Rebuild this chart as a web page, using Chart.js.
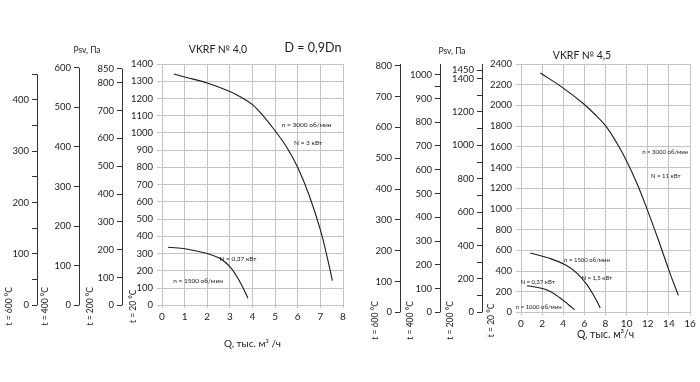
<!DOCTYPE html>
<html><head><meta charset="utf-8">
<script src="https://cdn.jsdelivr.net/npm/chart.js@4.4.1/dist/chart.umd.min.js"></script>
<style>
html,body{margin:0;padding:0;background:#fff}
body{width:700px;height:382px;position:relative;overflow:hidden;font-family:Lato,"Liberation Sans",sans-serif}
.c{position:absolute;top:0;height:382px}
.t{position:absolute;color:#222;white-space:nowrap;transform:translate(-50%,-50%);line-height:1}
</style></head><body>
<div class="c" style="left:0;width:355px"><canvas id="c1"></canvas></div>
<div class="c" style="left:355px;width:345px"><canvas id="c2"></canvas></div>
<div class="t" style="left:87px;top:50px;font-size:8.5px">Psv, Па</div>
<div class="t" style="left:218px;top:49px;font-size:10.5px">VKRF № 4,0</div>
<div class="t" style="left:313px;top:48px;font-size:12.5px">D = 0,9Dn</div>
<div class="t" style="left:452px;top:51px;font-size:8.5px">Psv, Па</div>
<div class="t" style="left:582px;top:55px;font-size:10.5px">VKRF № 4,5</div>
<script>
// ---------- data: VKRF № 4,0 ----------
const q40_n3000 = [0.53, 1.0, 2.0, 3.0, 3.5, 4.0, 4.5, 5.0, 5.5, 6.0, 6.5, 7.0, 7.3, 7.53];
const p40_n3000 = [1342, 1325, 1290, 1241, 1207, 1164, 1095, 1012, 920, 800, 640, 438, 280, 143];
const q40_n1500 = [0.27, 1.08, 1.96, 2.55, 3.0, 3.44, 3.8];
const p40_n1500 = [337, 327, 302, 273, 224, 137, 41];
const xTicks40 = [0,1,2,3,4,5,6,7,8];
const yTicks40_t20  = [0,100,200,300,400,500,600,700,800,900,1000,1100,1200,1300,1400];
const yTicks40_t200 = [0,100,200,300,400,500,600,700,800,850];
const yTicks40_t400 = [0,100,200,300,400,500,600];
const yTicks40_t600 = [0,50,100,150,200,250,300,350,400,450];
const yLabels40_t600 = [0,100,200,300,400];
const notes40 = [
  {text:'n = 3000 об/мин', x:6.39, y:1048},
  {text:'N = 3 кВт', x:6.46, y:945},
  {text:'N = 0,37 кВт', x:3.36, y:267},
  {text:'n = 1500 об/мин', x:1.59, y:143}
];
// ---------- data: VKRF № 4,5 ----------
const q45_n3000 = [1.83, 3.87, 5.92, 7.18, 8.06, 9.07, 10.02, 10.96, 11.9, 13.0, 14.1, 14.9];
const p45_n3000 = [2313, 2177, 2016, 1894, 1797, 1636, 1459, 1250, 1008, 702, 380, 164];
const q45_n1500 = [0.88, 2.61, 4.19, 5.29, 6.24, 7.02, 7.5];
const p45_n1500 = [574, 525, 461, 380, 268, 139, 42];
const q45_n1000 = [0.57, 1.82, 2.77, 3.71, 4.5, 5.07];
const p45_n1000 = [258, 236, 203, 139, 74, 26];
const xTicks45 = [0,2,4,6,8,10,12,14,16];
const yTicks45_t20  = [0,200,400,600,800,1000,1200,1400,1600,1800,2000,2200,2400];
const yTicks45_t200 = [0,100,200,300,400,500,600,700,800,900,1000,1100,1200,1300,1400,1450];
const yLabels45_t200 = [0,200,400,600,800,1000,1200,1400,1450];
const yTicks45_t400 = [0,100,200,300,400,500,600,700,800,900,950,1000];
const yLabels45_t400 = [0,100,200,300,400,500,600,700,800,900,1000];
const yTicks45_t600 = [0,100,200,300,400,500,600,700,800];
const notes45 = [
  {text:'n = 3000 об/мин', x:13.64, y:1546},
  {text:'N = 11 кВт', x:13.7, y:1320},
  {text:'n = 1500 об/мин', x:6.24, y:509},
  {text:'N = 1,5 кВт', x:7.18, y:332},
  {text:'N = 0,37 кВт', x:1.57, y:290},
  {text:'n = 1000 об/мин', x:1.67, y:52}
];
const temps = [20, 200, 400, 600];

const FONT = 'Lato, "Liberation Sans", sans-serif';
const GRID = '#c4c4c4';
const AXIS = '#333';

function pts(xs, ys){ return xs.map((x,i)=>({x, y:ys[i]})); }
function setTicks(vals){ return s => { s.ticks = vals.map(v=>({value:v})); }; }
function fixW(w){ return s => { s.width = w; }; }

function makeChart(id, P){
  const mainMax = P.yMain[P.yMain.length-1];
  const scales = {
    x: {
      type:'linear', position:'bottom', min:0, max:P.xTicks[P.xTicks.length-1],
      afterBuildTicks:setTicks(P.xTicks),
      afterFit: s => { s.height = P.xTitleOff + P.xTitleFont*1.2/2; },
      grid:{color:GRID, lineWidth:1, tickLength:3},
      border:{color:GRID},
      ticks:{autoSkip:false, maxRotation:0, padding:2, color:'#222', font:{family:FONT, size:P.xFont},
        callback:(v)=>String(v)},
      title:{display:true, text:P.xTitle, color:'#222', padding:0, font:{family:FONT, size:P.xTitleFont}}
    },
    y: {
      type:'linear', position:'left', weight:0, min:0, max:mainMax,
      afterBuildTicks:setTicks(P.yMain), afterFit:fixW(P.widths[3]),
      grid:{color:GRID, lineWidth:1, tickLength:5},
      border:{color:GRID},
      ticks:{autoSkip:false, padding:4, color:'#222', font:{family:FONT, size:P.yFont},
        callback:(v)=>String(v)}
    }
  };
  const sec = [
    {id:'t200', t:200, ticks:P.t200, labels:P.l200, w:P.widths[2], wt:1},
    {id:'t400', t:400, ticks:P.t400, labels:P.l400, w:P.widths[1], wt:2},
    {id:'t600', t:600, ticks:P.t600, labels:P.l600, w:P.widths[0], wt:3}
  ];
  sec.forEach(a=>{
    const lbl = a.labels;
    scales[a.id] = {
      type:'linear', position:'left', weight:a.wt, min:0,
      max: mainMax*(273+temps[0])/(273+a.t),
      afterBuildTicks:setTicks(a.ticks), afterFit:fixW(a.w),
      grid:{display:true, drawOnChartArea:false, drawTicks:true, tickLength:5, color:AXIS},
      border:{display:false},
      ticks:{autoSkip:false, padding:3, color:'#222', font:{family:FONT, size:P.yFont},
        callback:(v)=> (lbl.indexOf(v) >= 0 ? String(v) : '')}
    };
  });
  const decor = {
    id:'decor'+id,
    afterDraw(chart){
      const ctx = chart.ctx;
      ctx.save();
      sec.forEach(a=>{
        const s = chart.scales[a.id];
        const x = Math.round(s.right) + 0.5;
        const y0 = s.getPixelForValue(0);
        const y1 = P.lineToMax ? s.top : s.getPixelForValue(a.ticks[a.ticks.length-1]);
        ctx.strokeStyle = AXIS; ctx.lineWidth = 1;
        ctx.beginPath(); ctx.moveTo(x, y0); ctx.lineTo(x, y1); ctx.stroke();
      });
      const ids = ['y','t200','t400','t600'];
      ids.forEach((sid,i)=>{
        const s = chart.scales[sid];
        ctx.save();
        ctx.translate(s.right + P.tdx[i], s.bottom + P.tdy);
        ctx.rotate(-Math.PI/2);
        ctx.font = P.tFont + 'px ' + FONT;
        ctx.fillStyle = '#222'; ctx.textAlign = 'center'; ctx.textBaseline = 'middle';
        ctx.fillText('t = ' + temps[i] + ' °C', 0, 0);
        ctx.restore();
      });
      const xs = chart.scales.x, ys = chart.scales.y;
      ctx.font = P.noteFont + 'px ' + FONT;
      ctx.fillStyle = '#222'; ctx.textAlign = 'center'; ctx.textBaseline = 'middle';
      P.notes.forEach(n=> ctx.fillText(n.text, xs.getPixelForValue(n.x), ys.getPixelForValue(n.y)));
      ctx.restore();
    }
  };
  const datasets = P.series.map(d=>({
    data:d, xAxisID:'x', yAxisID:'y', borderColor:'#1a1a1a', borderWidth:1.1,
    pointRadius:0, fill:false, tension:0.4
  }));
  return new Chart(document.getElementById(id), {
    type:'line',
    data:{datasets},
    options:{
      responsive:true, maintainAspectRatio:false, animation:false,
      layout:{padding:{left:0, top:64, right:P.padRight, bottom:P.padBottom}},
      plugins:{legend:{display:false}, tooltip:{enabled:false}},
      scales
    },
    plugins:[decor]
  });
}

makeChart('c1', {
  series:[pts(q40_n3000,p40_n3000), pts(q40_n1500,p40_n1500)],
  xTicks:xTicks40, yMain:yTicks40_t20,
  t200:yTicks40_t200, l200:yTicks40_t200,
  t400:yTicks40_t400, l400:yTicks40_t400,
  t600:yTicks40_t600, l600:yLabels40_t600,
  widths:[37,42,43,40], lineToMax:false,
  padRight:12, padBottom:32, xTitleOff:38.7,
  xTitle:'Q, тыс. м³ /ч', xTitleFont:10, xFont:10, yFont:9.5,
  tdx:[-29,-32,-34,-28], tdy:1, tFont:8.5, noteFont:6.5,
  notes:notes40
});
makeChart('c2', {
  series:[pts(q45_n3000,p45_n3000), pts(q45_n1500,p45_n1500), pts(q45_n1000,p45_n1000)],
  xTicks:xTicks45, yMain:yTicks45_t20,
  t200:yTicks45_t200, l200:yLabels45_t200,
  t400:yTicks45_t400, l400:yLabels45_t400,
  t600:yTicks45_t600, l600:yTicks45_t600,
  widths:[45,40,42,39], lineToMax:true,
  padRight:10, padBottom:41, xTitleOff:22.3,
  xTitle:'Q, тыс. м³/ч', xTitleFont:10.5, xFont:10, yFont:9.5,
  tdx:[-30,-32,-30,-25], tdy:8, tFont:8.5, noteFont:6,
  notes:notes45
});
</script>
</body></html>
